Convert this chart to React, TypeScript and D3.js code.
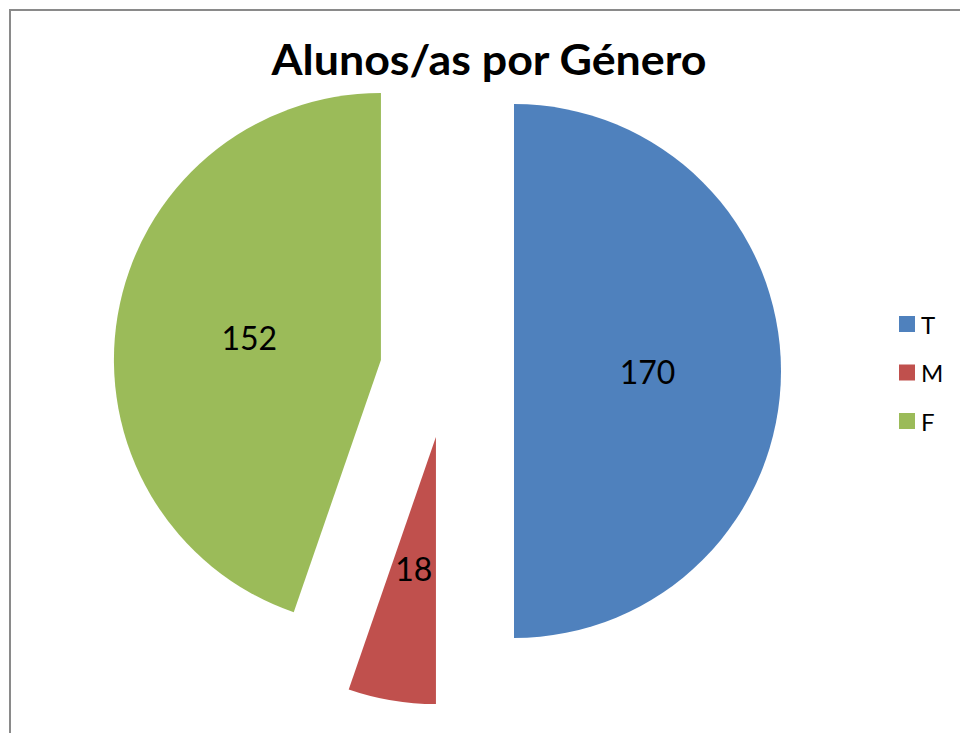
import React from "react";
import * as d3 from "d3";

const categories = ["T", "M", "F"];
const values = [170, 18, 152];
const colors = ["#4F81BD", "#C0504D", "#9BBB59"];
const title = "Alunos/as por Género";

const W = 960;
const H = 733;
const cx = 447;
const cy = 371;
const R = 267;
const explode = 67;

export default function App() {
  const pie = d3
    .pie<number>()
    .sort(null)
    .startAngle(0)
    .endAngle(2 * Math.PI)
    .value((d) => d);
  const arcs = pie(values);
  const arc = d3.arc<d3.PieArcDatum<number>>().innerRadius(0).outerRadius(R);

  return (
    <svg
      width={W}
      height={H}
      style={{ position: "absolute", left: 0, top: 0, background: "#fff" }}
      fontFamily="Lato, 'Open Sans', sans-serif"
    >
      <rect x={0} y={0} width={W} height={H} fill="#fff" />
      <rect
        x={10}
        y={10}
        width={W + 50}
        height={H + 50}
        fill="none"
        stroke="#8a8a8a"
        strokeWidth={2}
      />
      <text
        x={489}
        y={75}
        textAnchor="middle"
        fontSize={42}
        fontWeight="bold"
        fill="#000"
        textLength={435}
        lengthAdjust="spacingAndGlyphs"
      >
        {title}
      </text>
      {arcs.map((a, i) => {
        const mid = (a.startAngle + a.endAngle) / 2;
        const dx = Math.sin(mid);
        const dy = -Math.cos(mid);
        const ox = cx + dx * explode;
        const oy = cy + dy * explode;
        const lx = dx * R * 0.5;
        const ly = dy * R * 0.5;
        return (
          <g key={categories[i]} transform={`translate(${ox},${oy})`}>
            <path d={arc(a) || ""} fill={colors[i]} />
            <text
              x={lx}
              y={ly}
              textAnchor="middle"
              dominantBaseline="central"
              fontSize={32}
              fill="#000"
            >
              {values[i]}
            </text>
          </g>
        );
      })}
      <g>
        {categories.map((c, i) => {
          const y = 324 + i * 48.5;
          return (
            <g key={c}>
              <rect x={899} y={y - 8} width={16} height={16} fill={colors[i]} />
              <text
                x={921}
                y={y}
                dominantBaseline="central"
                fontSize={24}
                fill="#000"
              >
                {c}
              </text>
            </g>
          );
        })}
      </g>
    </svg>
  );
}
